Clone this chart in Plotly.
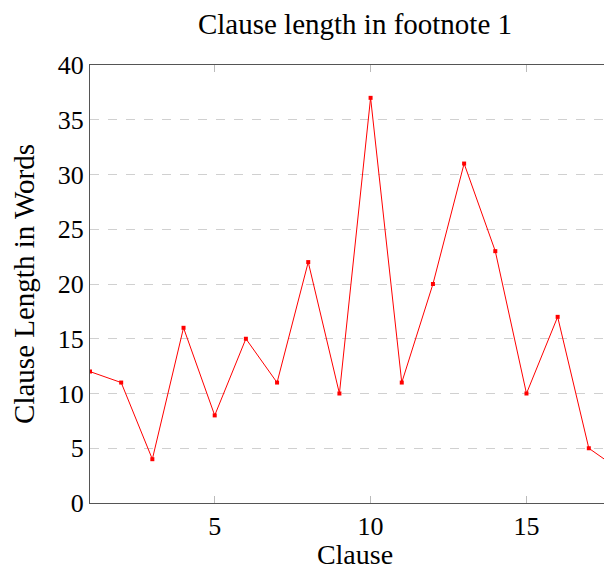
import plotly.graph_objects as go

clauses = list(range(1, 19))
lengths = [12, 11, 4, 16, 8, 15, 11, 22, 10, 37, 11, 20, 31, 23, 10, 17, 5, 3]

FONT = "Liberation Serif"

fig = go.Figure()
fig.add_trace(go.Scatter(
    x=clauses, y=lengths, mode="lines+markers",
    line=dict(color="red", width=1),
    marker=dict(color="red", size=4, symbol="square"),
    showlegend=False,
))

fig.update_layout(
    width=612, height=562,
    margin=dict(l=82, r=0, t=57, b=65),
    paper_bgcolor="white", plot_bgcolor="white",
    font=dict(family=FONT, size=26, color="black"),
    title=dict(text="Clause length in footnote 1", x=0.5, xref="paper", xanchor="center",
               y=1 - 16/562, yanchor="middle", font=dict(size=29)),
    xaxis=dict(
        range=[1, 18], tick0=5, dtick=5,
        showline=True, linecolor="#555", linewidth=1.3, mirror="ticks",
        ticks="inside", ticklen=7, tickcolor="#bbb", tickwidth=1.3,
        showgrid=False, zeroline=False,
        tickfont=dict(size=26),
        title=dict(text="Clause", standoff=9, font=dict(size=28)),
    ),
    yaxis=dict(
        range=[0, 40], dtick=5,
        showline=True, linecolor="#555", linewidth=1.3, mirror=False,
        ticks="", showgrid=True, gridcolor="#d0d0d0", griddash="dash", gridwidth=1,
        zeroline=False,
        tickfont=dict(size=26),
        title=dict(text="Clause Length in Words", standoff=19, font=dict(size=29)),
    ),
)

fig.write_html("out.html")
